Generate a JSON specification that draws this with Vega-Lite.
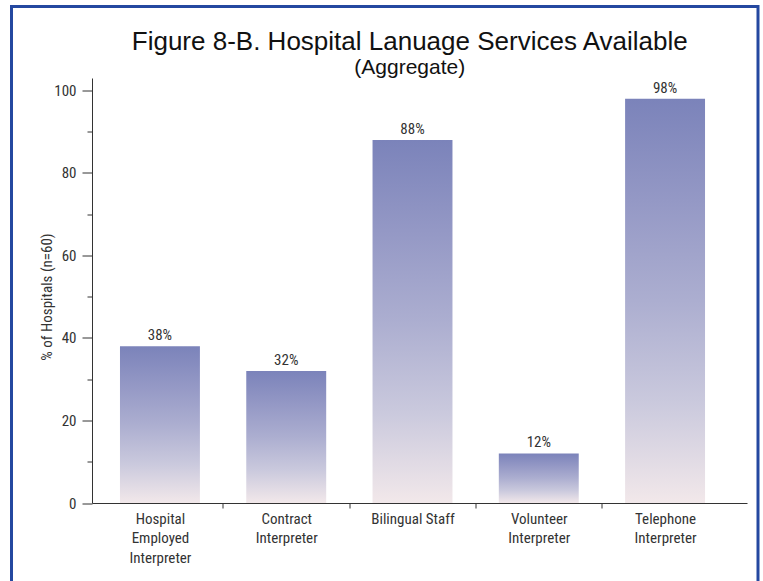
{
  "$schema": "https://vega.github.io/schema/vega-lite/v6.json",
  "width": 746.5,
  "height": 578,
  "autosize": {"type": "none"},
  "padding": {"left": 11.5, "top": 6.5, "right": 5, "bottom": -3.5},
  "background": "white",
  "config": {
    "view": {"stroke": "#2448a0", "strokeWidth": 3},
    "font": "Liberation Sans Narrow, Roboto Condensed, Roboto, sans-serif"
  },
  "title": {
    "text": "Figure 8-B. Hospital Lanuage Services Available",
    "subtitle": "(Aggregate)",
    "font": "Liberation Sans, Arial, sans-serif",
    "subtitleFont": "Liberation Sans, Arial, sans-serif",
    "fontSize": 26,
    "fontWeight": "normal",
    "subtitleFontSize": 21,
    "color": "#111111",
    "subtitleColor": "#111111",
    "anchor": "middle",
    "offset": -71,
    "dx": 25,
    "subtitlePadding": 2
  },
  "data": {
    "values": [
      {"service": "Hospital|Employed|Interpreter", "pct": 38, "label": "38%"},
      {"service": "Contract|Interpreter", "pct": 32, "label": "32%"},
      {"service": "Bilingual Staff", "pct": 88, "label": "88%"},
      {"service": "Volunteer|Interpreter", "pct": 12, "label": "12%"},
      {"service": "Telephone|Interpreter", "pct": 98, "label": "98%"}
    ]
  },
  "encoding": {
    "x": {
      "field": "service",
      "type": "nominal",
      "sort": null,
      "scale": {"range": [80.5, 735.5], "paddingInner": 0.367, "paddingOuter": 0.277, "align": 0.4},
      "axis": {
        "title": null,
        "offset": -81.5,
        "labelAngle": 0,
        "labelExpr": "split(datum.label, '|')",
        "labelFontSize": 15,
        "labelColor": "#333333",
        "labelLineHeight": 19.5,
        "labelPadding": 3,
        "labelOffset": -63,
        "tickSize": 5,
        "tickOffset": 63,
        "tickOpacity": {"condition": {"test": "datum.value == 'Telephone|Interpreter'", "value": 0}, "value": 1},
        "tickColor": "#333333",
        "domainColor": "#333333"
      }
    },
    "y": {
      "field": "pct",
      "type": "quantitative",
      "scale": {"domain": [0, 103], "range": [496.5, 71.5], "nice": false},
      "axis": {
        "title": "% of Hospitals (n=60)",
        "titleFontSize": 15,
        "titleFontWeight": "normal",
        "titleColor": "#333333",
        "titleX": -46,
        "titleY": 290,
        "titleAngle": -90,
        "titleBaseline": "middle",
        "offset": -80.5,
        "values": [0, 10, 20, 30, 40, 50, 60, 70, 80, 90, 100],
        "labelExpr": "datum.value % 20 == 0 ? datum.label : ''",
        "labelFontSize": 15,
        "labelColor": "#333333",
        "labelPadding": 6,
        "tickSize": {"condition": {"test": "datum.value % 20 == 0", "value": 10}, "value": 5},
        "tickColor": "#333333",
        "domainColor": "#333333",
        "grid": false
      }
    }
  },
  "layer": [
    {
      "mark": {
        "type": "bar",
        "color": {
          "gradient": "linear",
          "x1": 0, "y1": 0, "x2": 0, "y2": 1,
          "stops": [
            {"offset": 0, "color": "#7b83ba"},
            {"offset": 0.25, "color": "#9498c5"},
            {"offset": 0.5, "color": "#acaed0"},
            {"offset": 0.75, "color": "#cac9dd"},
            {"offset": 1, "color": "#f2e8ea"}
          ]
        }
      }
    },
    {
      "mark": {"type": "text", "dy": -6, "baseline": "alphabetic", "fontSize": 15, "color": "#333333"},
      "encoding": {"text": {"field": "label"}}
    }
  ]
}
